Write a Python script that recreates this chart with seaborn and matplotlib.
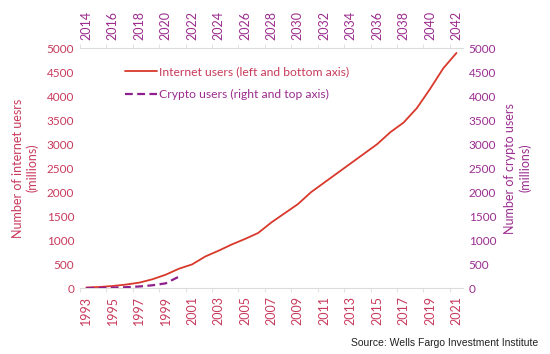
import seaborn as sns
import matplotlib
matplotlib.use("Agg")
from matplotlib import pyplot as plt
import pandas as pd

# internet users, millions (bottom / left axis)
years_internet = list(range(1993, 2022))
internet_users = [14, 25, 45, 75, 115, 185, 280, 405, 495, 660, 780, 910, 1025, 1150,
                  1370, 1560, 1750, 2000, 2200, 2400, 2600, 2800, 3000, 3250, 3450,
                  3750, 4150, 4580, 4900]

# crypto users, millions (top / right axis)
years_crypto = list(range(2014, 2022))
crypto_users = [2, 5, 10, 20, 35, 60, 100, 240]

bottom_ticks = list(range(1993, 2022, 2))
top_ticks = list(range(2014, 2043, 2))
y_ticks = list(range(0, 5001, 500))

red_line = "#d8392b"
red_text = "#c83a5c"
purple_line = "#8e1f8c"
purple_text = "#9b2d8f"
grey = "#dcdcdc"

sns.set_style("white")
plt.rcParams["font.family"] = ["Lato", "DejaVu Sans"]

fig = plt.figure(figsize=(5.5, 3.54), dpi=100)
rect = [0.145, 0.186, 0.697, 0.678]
ax = fig.add_axes(rect)
ax2 = fig.add_axes(rect, frameon=False)

df_int = pd.DataFrame({"year": years_internet, "users": internet_users})
df_cry = pd.DataFrame({"year": years_crypto, "users": crypto_users})

sns.lineplot(data=df_int, x="year", y="users", ax=ax, color=red_line, lw=1.3,
             label="Internet users (left and bottom axis)", legend=False)
sns.lineplot(data=df_cry, x="year", y="users", ax=ax2, color=purple_line, lw=1.6,
             linestyle=(0, (3.5, 2)), label="Crypto users (right and top axis)", legend=False)

# bottom / left axis
ax.set_xlim(1992.5, 2021.5)
ax.set_ylim(0, 5000)
ax.set_xticks(bottom_ticks)
ax.set_xticklabels([str(y) for y in bottom_ticks], rotation=90, color=red_text, fontsize=9)
ax.set_yticks(y_ticks)
ax.set_yticklabels([str(v) for v in y_ticks], color=red_text, fontsize=8.5)
ax.tick_params(axis="y", length=0, pad=4)
ax.tick_params(axis="x", length=0, pad=6)
ax.set_xticks([y + 0.5 for y in range(1992, 2022, 2)], minor=True)
ax.tick_params(axis="x", which="minor", length=3, color=grey, bottom=True)
ax.set_xlabel("")
ax.set_ylabel("Number of internet uesrs\n(millions)", color=red_text, fontsize=9, labelpad=6)
for s in ["left", "right"]:
    ax.spines[s].set_visible(False)
for s in ["top", "bottom"]:
    ax.spines[s].set_color(grey)
    ax.spines[s].set_linewidth(0.8)

# top / right axis
ax2.set_xlim(2013.5, 2042.5)
ax2.set_ylim(0, 5000)
ax2.xaxis.tick_top()
ax2.yaxis.tick_right()
ax2.yaxis.set_label_position("right")
ax2.set_xticks(top_ticks)
ax2.set_xticklabels([str(y) for y in top_ticks], rotation=90, color=purple_text, fontsize=9)
ax2.set_yticks(y_ticks)
ax2.set_yticklabels([str(v) for v in y_ticks], color=purple_text, fontsize=8.5)
ax2.tick_params(axis="y", length=0, pad=4)
ax2.tick_params(axis="x", length=0, pad=6)
ax2.set_xticks([y + 0.5 for y in range(2013, 2043, 2)], minor=True)
ax2.tick_params(axis="x", which="minor", length=3, color=grey, top=True, bottom=False)
ax2.set_xlabel("")
ax2.set_ylabel("Number of crypto users\n(millions)", color=purple_text, fontsize=9, labelpad=6)

# legend
handles = ax.get_lines()[:1] + ax2.get_lines()[:1]
leg = ax.legend(handles, [h.get_label() for h in handles], loc="upper left",
                bbox_to_anchor=(0.09, 0.97), frameon=False, fontsize=8.7,
                handlelength=2.6, handletextpad=0.2, labelspacing=1.0)
leg.get_texts()[0].set_color(red_text)
leg.get_texts()[1].set_color(purple_text)

fig.text(0.978, 0.022, "Source: Wells Fargo Investment Institute", ha="right",
         fontsize=7.5, family=["Liberation Sans", "DejaVu Sans"], color="#222222")

fig.savefig("out.png", dpi=100)
